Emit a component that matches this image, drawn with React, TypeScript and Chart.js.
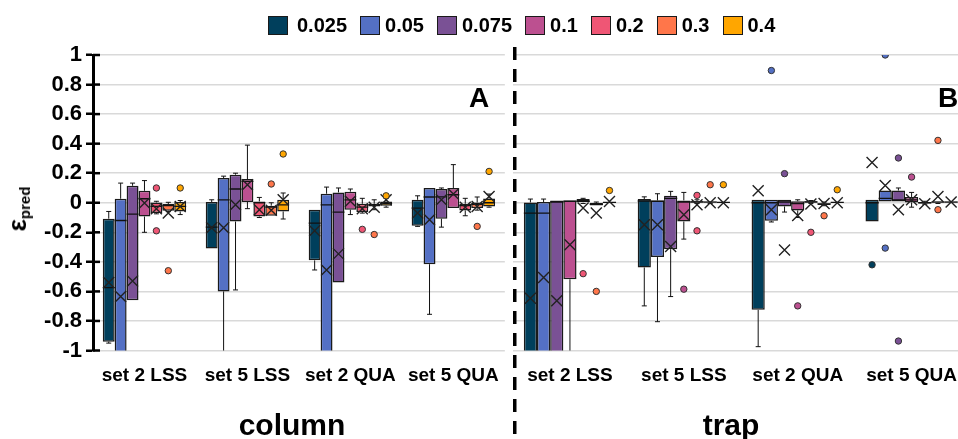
import React, { useEffect, useRef } from 'react';
import { Chart, registerables } from 'chart.js';

Chart.register(...registerables);

const FONT = '"Liberation Sans", Arial, Helvetica, sans-serif';

const CATEGORIES = ['set 2 LSS', 'set 5 LSS', 'set 2 QUA', 'set 5 QUA'];
const SERIES = ['0.025', '0.05', '0.075', '0.1', '0.2', '0.3', '0.4'];
const COLORS = ['#003f5c', '#5470c4', '#7a5195', '#bc5090', '#ef5675', '#ff764a', '#ffa600'];
const Y_MIN = -1;
const Y_MAX = 1;
const Y_STEP = 0.2;
const PANEL_TITLES = ['column', 'trap'];
const PANEL_LETTERS = ['A', 'B'];

// ---- column panel (rows: series, cols: categories) ----
const COLUMN_Q1 = [
  [-0.94, -0.31, -0.39, -0.156],
  [-1.1, -0.6, -1.1, -0.416],
  [-0.66, -0.127, -0.54, -0.108],
  [-0.093, 0.005, -0.047, -0.036],
  [-0.07, -0.093, -0.063, -0.052],
  [-0.054, -0.088, -0.025, -0.036],
  [-0.059, -0.059, -0.02, -0.025],
];
const COLUMN_Q3 = [
  [-0.108, 0.005, -0.047, 0.02],
  [0.027, 0.167, 0.061, 0.1],
  [0.115, 0.19, 0.07, 0.093],
  [0.081, 0.16, 0.075, 0.1],
  [0.002, 0.009, -0.007, -0.007],
  [-0.009, -0.02, -0.007, 0.002],
  [0.005, 0.02, 0.009, 0.029],
];
const COLUMN_MEDIAN = [
  [-0.574, -0.165, -0.138, -0.036],
  [-0.12, 0.02, -0.014, 0.039],
  [-0.077, 0.093, -0.063, 0.04],
  [0.027, 0.145, 0.02, 0.054],
  [-0.025, 0.0, -0.03, -0.02],
  [-0.02, -0.03, -0.015, -0.01],
  [-0.025, -0.014, -0.005, 0.0],
];
const COLUMN_MEAN = [
  [-0.54, -0.17, -0.19, -0.07],
  [-0.635, -0.17, -0.455, -0.115],
  [-0.53, -0.014, -0.346, 0.02],
  [-0.002, 0.122, 0.01, 0.06],
  [-0.04, -0.047, -0.04, -0.03],
  [-0.07, -0.05, -0.03, -0.025],
  [-0.025, 0.02, 0.02, 0.043],
];
const COLUMN_MIN = [
  [-0.95, -0.31, -0.455, -0.16],
  [-1.1, -1.1, -1.1, -0.755],
  [-0.66, -0.59, -0.54, -0.165],
  [-0.2, -0.04, -0.08, -0.036],
  [-0.075, -0.1, -0.07, -0.088],
  [-0.06, -0.09, -0.047, -0.05],
  [-0.08, -0.11, -0.03, -0.03],
];
const COLUMN_MAX = [
  [-0.059, 0.02, -0.047, 0.047],
  [0.133, 0.18, 0.106, 0.1],
  [0.133, 0.2, 0.1, 0.1],
  [0.15, 0.39, 0.093, 0.258],
  [0.01, 0.036, 0.03, 0.03],
  [0.003, 0.0, 0.02, 0.039],
  [0.015, 0.066, 0.03, 0.059],
];
const COLUMN_OUTLIERS = [
  [[], [], [], []],
  [[], [], [], []],
  [[], [], [], []],
  [[], [], [], []],
  [[0.1, -0.19], [], [-0.18], []],
  [[-0.46], [0.127], [-0.215], [-0.16]],
  [[0.1], [0.33], [0.047], [0.212]],
];

// ---- trap panel ----
const TRAP_Q1 = [
  [-1.1, -0.438, -0.725, -0.127],
  [-1.1, -0.368, -0.122, 0.009],
  [-1.1, -0.314, -0.025, 0.009],
  [-0.518, -0.127, -0.052, 0.002],
  [0.0, 0.0, 0.0, -0.005],
  [-0.018, 0.0, -0.015, 0.0],
  [0.0, 0.0, 0.0, 0.0],
];
const TRAP_Q3 = [
  [0.002, 0.025, 0.02, 0.02],
  [0.005, 0.016, 0.02, 0.083],
  [0.016, 0.047, 0.02, 0.083],
  [0.016, 0.016, 0.01, 0.039],
  [0.025, 0.01, 0.01, 0.005],
  [-0.002, 0.008, 0.0, 0.008],
  [0.005, 0.005, 0.005, 0.008],
];
const TRAP_MEDIAN = [
  [-0.07, 0.012, 0.0, 0.0],
  [-0.07, 0.01, 0.0, 0.03],
  [0.005, 0.03, 0.005, 0.02],
  [0.01, 0.005, -0.005, 0.02],
  [0.01, 0.005, 0.005, 0.0],
  [-0.01, 0.004, -0.008, 0.004],
  [0.002, 0.002, 0.002, 0.004],
];
const TRAP_MEAN = [
  [-0.646, -0.149, 0.081, 0.273],
  [-0.506, -0.149, -0.047, 0.117],
  [-0.664, -0.296, -0.319, -0.047],
  [-0.285, -0.081, -0.086, 0.02],
  [-0.036, -0.014, -0.009, -0.007],
  [-0.07, 0.0, -0.005, 0.043],
  [0.009, 0.0, 0.0, 0.005],
];
const TRAP_MIN = [
  [-1.1, -0.698, -0.974, -0.127],
  [-1.1, -0.805, -0.13, 0.009],
  [-1.1, -0.635, -0.063, 0.009],
  [-1.1, -0.246, -0.1, -0.03],
  [-0.005, -0.005, -0.005, -0.01],
  [-0.02, -0.005, -0.02, -0.005],
  [-0.003, -0.003, -0.003, -0.003],
];
const TRAP_MAX = [
  [0.025, 0.04, 0.02, 0.02],
  [0.025, 0.061, 0.02, 0.083],
  [0.016, 0.077, 0.02, 0.1],
  [0.016, 0.07, 0.02, 0.07],
  [0.03, 0.02, 0.015, 0.01],
  [0.005, 0.01, 0.005, 0.01],
  [0.008, 0.008, 0.008, 0.01],
];
const TRAP_OUTLIERS = [
  [[], [], [], [-0.42]],
  [[], [], [0.895], [-0.307, 1.0]],
  [[], [], [0.197], [0.303, -0.936]],
  [[], [-0.585], [-0.698], [0.174]],
  [[-0.48], [0.05, -0.19], [-0.2], []],
  [[-0.6], [0.122], [-0.088], [0.422, -0.047]],
  [[0.083], [0.122], [0.088], []],
];

type Panel = {
  q1: number[][];
  q3: number[][];
  med: number[][];
  mean: number[][];
  min: number[][];
  max: number[][];
  out: number[][][];
};

const COLUMN: Panel = {
  q1: COLUMN_Q1, q3: COLUMN_Q3, med: COLUMN_MEDIAN, mean: COLUMN_MEAN,
  min: COLUMN_MIN, max: COLUMN_MAX, out: COLUMN_OUTLIERS,
};
const TRAP: Panel = {
  q1: TRAP_Q1, q3: TRAP_Q3, med: TRAP_MEDIAN, mean: TRAP_MEAN,
  min: TRAP_MIN, max: TRAP_MAX, out: TRAP_OUTLIERS,
};

function makeBoxPlugin(panel: Panel, isLeft: boolean) {
  return {
    id: 'boxExtras',
    afterDatasetsDraw(chart: any) {
      const ctx = chart.ctx as CanvasRenderingContext2D;
      const y = chart.scales.y;
      const area = chart.chartArea;
      const py = (v: number) => y.getPixelForValue(v);
      ctx.save();
      ctx.beginPath();
      ctx.rect(area.left - 2, area.top, area.right - area.left + 4, area.bottom - area.top);
      ctx.clip();
      SERIES.forEach((_, i) => {
        const meta = chart.getDatasetMeta(i);
        meta.data.forEach((el: any, j: number) => {
          const x = el.x;
          const w = el.width;
          const top = py(panel.q3[i][j]);
          const bot = py(panel.q1[i][j]);
          const hi = py(panel.max[i][j]);
          const lo = py(panel.min[i][j]);
          ctx.strokeStyle = '#111';
          ctx.lineWidth = 1;
          const cap = 2.5;
          if (hi < top - 0.5) {
            ctx.beginPath();
            ctx.moveTo(x, top);
            ctx.lineTo(x, hi);
            ctx.moveTo(x - cap, hi);
            ctx.lineTo(x + cap, hi);
            ctx.stroke();
          }
          if (lo > bot + 0.5) {
            ctx.beginPath();
            ctx.moveTo(x, bot);
            ctx.lineTo(x, lo);
            ctx.moveTo(x - cap, lo);
            ctx.lineTo(x + cap, lo);
            ctx.stroke();
          }
          // median
          const m = py(panel.med[i][j]);
          ctx.lineWidth = 1.3;
          ctx.beginPath();
          ctx.moveTo(x - w / 2, m);
          ctx.lineTo(x + w / 2, m);
          ctx.stroke();
          // mean X
          const my = py(panel.mean[i][j]);
          const s = 5.5;
          ctx.strokeStyle = '#222';
          ctx.lineWidth = 1.4;
          ctx.beginPath();
          ctx.moveTo(x - s, my - s);
          ctx.lineTo(x + s, my + s);
          ctx.moveTo(x + s, my - s);
          ctx.lineTo(x - s, my + s);
          ctx.stroke();
          // outliers
          panel.out[i][j].forEach((v) => {
            ctx.beginPath();
            ctx.arc(x, py(v), 3.2, 0, Math.PI * 2);
            ctx.fillStyle = COLORS[i];
            ctx.fill();
            ctx.strokeStyle = '#333';
            ctx.lineWidth = 1;
            ctx.stroke();
          });
        });
      });
      ctx.restore();
    },
    afterDraw(chart: any) {
      const ctx = chart.ctx as CanvasRenderingContext2D;
      const area = chart.chartArea;
      const y = chart.scales.y;
      ctx.save();
      if (isLeft) {
        ctx.strokeStyle = '#000';
        ctx.lineWidth = 2.5;
        y.ticks.forEach((t: any) => {
          const p = y.getPixelForValue(t.value);
          ctx.beginPath();
          ctx.moveTo(area.left, p);
          ctx.lineTo(area.left + 7, p);
          ctx.stroke();
        });
      } else {
        ctx.strokeStyle = '#000';
        ctx.lineWidth = 3.5;
        ctx.setLineDash([13, 9]);
        ctx.beginPath();
        ctx.moveTo(1.75, 47);
        ctx.lineTo(1.75, chart.height);
        ctx.stroke();
      }
      ctx.restore();
    },
  };
}

function buildChart(canvas: HTMLCanvasElement, panel: Panel, isLeft: boolean) {
  const datasets = SERIES.map((name, i) => ({
    label: name,
    data: CATEGORIES.map((_, j) => [panel.q1[i][j], panel.q3[i][j]]),
    backgroundColor: COLORS[i],
    borderColor: '#1a1a1a',
    borderWidth: 1.5,
    borderSkipped: false,
    categoryPercentage: 0.81,
    barPercentage: 1,
  }));
  return new Chart(canvas, {
    type: 'bar',
    data: { labels: CATEGORIES, datasets } as any,
    options: {
      responsive: false,
      animation: false,
      events: [],
      layout: { padding: { top: 55, right: isLeft ? 2 : 0, bottom: 0, left: 0 } },
      plugins: { legend: { display: false }, tooltip: { enabled: false } },
      scales: {
        x: {
          grid: { display: false, drawTicks: false },
          border: { display: false },
          ticks: {
            color: '#000',
            font: { family: FONT, size: 19, weight: 'bold' },
            padding: 14,
            autoSkip: false,
            maxRotation: 0,
          },
          afterFit: (s: any) => { s.height = 88.5; },
        },
        y: {
          min: Y_MIN,
          max: Y_MAX,
          ticks: {
            stepSize: Y_STEP,
            display: isLeft,
            color: '#000',
            font: { family: FONT, size: 22, weight: 'bold' },
            padding: 4,
            callback: (v: any) => String(Math.round(Number(v) * 10) / 10),
          },
          grid: {
            color: '#d9d9d9',
            lineWidth: 1.5,
            drawTicks: isLeft,
            tickLength: 7,
            tickColor: '#000',
            tickWidth: 2.5,
          },
          border: { display: isLeft, color: '#000', width: 3 },
          afterFit: (s: any) => { s.width = isLeft ? 93 : 0; },
        },
      },
    } as any,
    plugins: [makeBoxPlugin(panel, isLeft)],
  });
}

export default function App() {
  const leftRef = useRef<HTMLCanvasElement>(null);
  const rightRef = useRef<HTMLCanvasElement>(null);

  useEffect(() => {
    const c1 = buildChart(leftRef.current!, COLUMN, true);
    const c2 = buildChart(rightRef.current!, TRAP, false);
    return () => {
      c1.destroy();
      c2.destroy();
    };
  }, []);

  const bold = { fontFamily: FONT, fontWeight: 700, color: '#000', lineHeight: 1, whiteSpace: 'nowrap' as const };

  return (
    <div style={{ position: 'absolute', left: 0, top: 0, width: 958, height: 439, overflow: 'hidden', background: '#fff' }}>
      <canvas ref={leftRef} width={513} height={439} style={{ position: 'absolute', left: 0, top: 0 }} />
      <canvas ref={rightRef} width={458} height={439} style={{ position: 'absolute', left: 513, top: 0 }} />
      {/* legend */}
      <div style={{ position: 'absolute', left: 268, top: 15, display: 'flex', alignItems: 'center', gap: 13 }}>
        {SERIES.map((s, i) => (
          <div key={s} style={{ display: 'flex', alignItems: 'center' }}>
            <div style={{ width: 20, height: 19, boxSizing: 'border-box', border: '1.5px solid #1a1a1a', background: COLORS[i], marginRight: i === 0 ? 9 : 5 }} />
            <span style={{ ...bold, fontSize: 20 }}>{s}</span>
          </div>
        ))}
      </div>
      {/* y-axis title */}
      <div style={{ ...bold, position: 'absolute', left: 17, top: 209, transform: 'translate(-50%, -50%) rotate(-90deg)' }}>
        <span style={{ fontSize: 26 }}>ε</span>
        <span style={{ fontSize: 15, position: 'relative', top: 4 }}>pred</span>
      </div>
      {/* panel letters */}
      <div style={{ ...bold, position: 'absolute', left: 479, top: 98, fontSize: 28, transform: 'translate(-50%, -50%)' }}>{PANEL_LETTERS[0]}</div>
      <div style={{ ...bold, position: 'absolute', left: 948, top: 98, fontSize: 28, transform: 'translate(-50%, -50%)' }}>{PANEL_LETTERS[1]}</div>
      {/* panel titles */}
      <div style={{ ...bold, position: 'absolute', left: 292, top: 425, fontSize: 30, transform: 'translate(-50%, -50%)' }}>{PANEL_TITLES[0]}</div>
      <div style={{ ...bold, position: 'absolute', left: 731, top: 425, fontSize: 30, transform: 'translate(-50%, -50%)' }}>{PANEL_TITLES[1]}</div>
    </div>
  );
}
